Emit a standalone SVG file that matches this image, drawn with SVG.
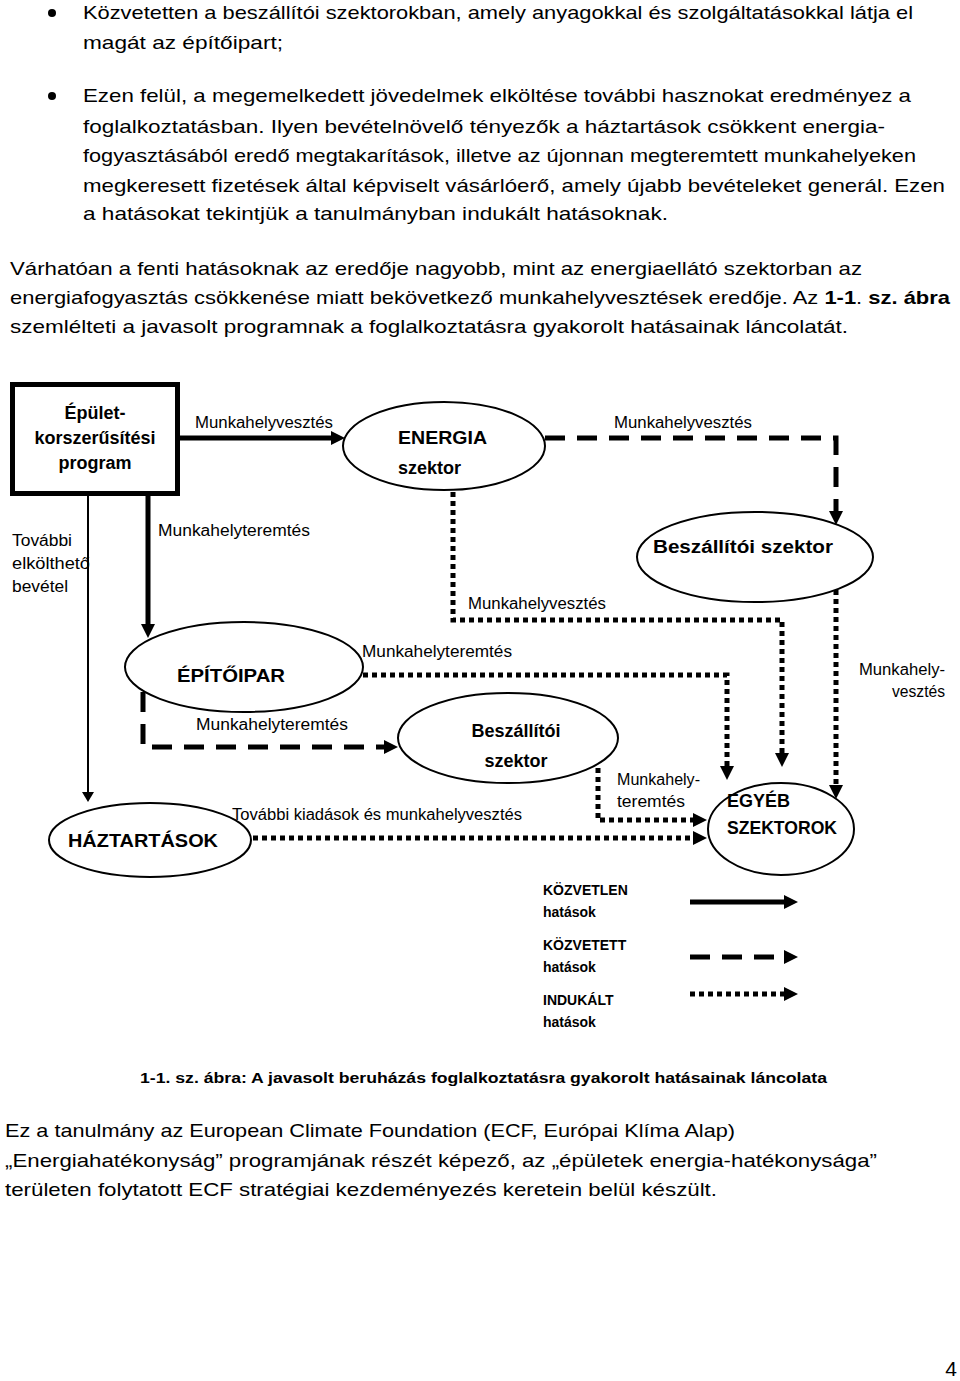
<svg xmlns="http://www.w3.org/2000/svg" width="960" height="1381" viewBox="0 0 960 1381">
<style>
text{font-family:"Liberation Sans",Arial,sans-serif;fill:#000}
.body{font-size:19px}
.lbl{font-size:16px}
.node{font-size:18px;font-weight:bold}
.leg{font-size:14px;font-weight:bold}
.ell{fill:#fff;stroke:#000;stroke-width:2}
.c{fill:none;stroke:#000}
.direct{stroke-width:5}
.thin{stroke-width:2}
.dash{stroke-width:5;stroke-dasharray:20 12}
.dot{stroke-width:5;stroke-dasharray:5 4}
</style>
<defs>
<marker id="arr" markerUnits="userSpaceOnUse" markerWidth="14" markerHeight="14" refX="2" refY="7" orient="auto" viewBox="0 0 14 14">
<path d="M0,0 L14,7 L0,14 z" fill="#000"/>
</marker>
<marker id="arrs" markerUnits="userSpaceOnUse" markerWidth="10" markerHeight="12" refX="0" refY="6" orient="auto" viewBox="0 0 10 12">
<path d="M0,0 L10,6 L0,12 z" fill="#000"/>
</marker>
</defs>
<rect width="960" height="1381" fill="#fff"/>

<g id="text-top">
<circle cx="52" cy="13" r="4"/>
<text class="body" x="83" y="19" textLength="830" lengthAdjust="spacingAndGlyphs">Közvetetten a beszállítói szektorokban, amely anyagokkal és szolgáltatásokkal látja el</text>
<text class="body" x="83" y="49" textLength="200" lengthAdjust="spacingAndGlyphs">magát az építőipart;</text>
<circle cx="52" cy="96" r="4"/>
<text class="body" x="83" y="102" textLength="828" lengthAdjust="spacingAndGlyphs">Ezen felül, a megemelkedett jövedelmek elköltése további hasznokat eredményez a</text>
<text class="body" x="83" y="133" textLength="802" lengthAdjust="spacingAndGlyphs">foglalkoztatásban. Ilyen bevételnövelő tényezők a háztartások csökkent energia-</text>
<text class="body" x="83" y="162" textLength="833" lengthAdjust="spacingAndGlyphs">fogyasztásából eredő megtakarítások, illetve az újonnan megteremtett munkahelyeken</text>
<text class="body" x="83" y="192" textLength="862" lengthAdjust="spacingAndGlyphs">megkeresett fizetések által képviselt vásárlóerő, amely újabb bevételeket generál. Ezen</text>
<text class="body" x="83" y="220" textLength="585" lengthAdjust="spacingAndGlyphs">a hatásokat tekintjük a tanulmányban indukált hatásoknak.</text>
<text class="body" x="10" y="275" textLength="852" lengthAdjust="spacingAndGlyphs">Várhatóan a fenti hatásoknak az eredője nagyobb, mint az energiaellátó szektorban az</text>
<text class="body" x="10" y="304" textLength="940" lengthAdjust="spacingAndGlyphs">energiafogyasztás csökkenése miatt bekövetkező munkahelyvesztések eredője. Az <tspan font-weight="bold">1-1</tspan>. <tspan font-weight="bold">sz. ábra</tspan></text>
<text class="body" x="10" y="333" textLength="838" lengthAdjust="spacingAndGlyphs">szemlélteti a javasolt programnak a foglalkoztatásra gyakorolt hatásainak láncolatát.</text>
</g>

<g id="connectors">
<path class="c direct" d="M180,438 H333" marker-end="url(#arr)"/>
<path class="c dash" d="M545,438 H836 V513" marker-end="url(#arr)"/>
<path class="c dot" d="M453,492 V620 H782 V755" marker-end="url(#arr)"/>
<path class="c dot" d="M836,590 V787" marker-end="url(#arr)"/>
<path class="c thin" d="M88,496 V792" marker-end="url(#arrs)"/>
<path class="c direct" d="M148,496 V626" marker-end="url(#arr)"/>
<path class="c dot" d="M363,675 H727 V768" marker-end="url(#arr)"/>
<path class="c dash" d="M143,692 V747 H386" marker-end="url(#arr)"/>
<path class="c dot" d="M598,768 V820 H695" marker-end="url(#arr)"/>
<path class="c dot" d="M235,838 H695" marker-end="url(#arr)"/>
</g>

<g id="labels">
<text class="lbl" x="195" y="428" textLength="138" lengthAdjust="spacingAndGlyphs">Munkahelyvesztés</text>
<text class="lbl" x="614" y="428" textLength="138" lengthAdjust="spacingAndGlyphs">Munkahelyvesztés</text>
<text class="lbl" x="158" y="536" textLength="152" lengthAdjust="spacingAndGlyphs">Munkahelyteremtés</text>
<text class="lbl" x="12" y="546" textLength="60" lengthAdjust="spacingAndGlyphs">További</text>
<text class="lbl" x="12" y="569" textLength="78" lengthAdjust="spacingAndGlyphs">elkölthető</text>
<text class="lbl" x="12" y="592" textLength="56" lengthAdjust="spacingAndGlyphs">bevétel</text>
<text class="lbl" x="468" y="609" textLength="138" lengthAdjust="spacingAndGlyphs">Munkahelyvesztés</text>
<text class="lbl" x="362" y="657" textLength="150" lengthAdjust="spacingAndGlyphs">Munkahelyteremtés</text>
<text class="lbl" x="859" y="675" textLength="86" lengthAdjust="spacingAndGlyphs">Munkahely-</text>
<text class="lbl" x="892" y="697" textLength="53" lengthAdjust="spacingAndGlyphs">vesztés</text>
<text class="lbl" x="196" y="730" textLength="152" lengthAdjust="spacingAndGlyphs">Munkahelyteremtés</text>
<text class="lbl" x="617" y="785" textLength="83" lengthAdjust="spacingAndGlyphs">Munkahely-</text>
<text class="lbl" x="617" y="807" textLength="68" lengthAdjust="spacingAndGlyphs">teremtés</text>
<text class="lbl" x="232" y="820" textLength="290" lengthAdjust="spacingAndGlyphs">További kiadások és munkahelyvesztés</text>
</g>

<g id="node-program">
<rect x="12.5" y="384.5" width="165" height="109" fill="#fff" stroke="#000" stroke-width="5"/>
<text class="node" x="95" y="419" text-anchor="middle">Épület-</text>
<text class="node" x="95" y="444" text-anchor="middle">korszerűsítési</text>
<text class="node" x="95" y="469" text-anchor="middle">program</text>
</g>

<g id="node-energia">
<ellipse class="ell" cx="444" cy="446" rx="101" ry="44"/>
<text class="node" x="398" y="444" textLength="89" lengthAdjust="spacingAndGlyphs">ENERGIA</text>
<text class="node" x="398" y="474">szektor</text>
</g>

<g id="node-beszallitoi1">
<ellipse class="ell" cx="755" cy="557" rx="118" ry="45"/>
<text class="node" x="653" y="553" textLength="180" lengthAdjust="spacingAndGlyphs">Beszállítói szektor</text>
</g>

<g id="node-epitoipar">
<ellipse class="ell" cx="244" cy="667" rx="119" ry="45"/>
<text class="node" x="177" y="682" textLength="108" lengthAdjust="spacingAndGlyphs">ÉPÍTŐIPAR</text>
</g>

<g id="node-beszallitoi2">
<ellipse class="ell" cx="508" cy="738" rx="110" ry="45"/>
<text class="node" x="516" y="737" text-anchor="middle">Beszállítói</text>
<text class="node" x="516" y="767" text-anchor="middle">szektor</text>
</g>

<g id="node-haztartasok">
<ellipse class="ell" cx="150" cy="840" rx="101" ry="37"/>
<text class="node" x="68" y="847" textLength="150" lengthAdjust="spacingAndGlyphs">HÁZTARTÁSOK</text>
</g>

<g id="node-egyeb">
<ellipse class="ell" cx="781" cy="829" rx="73" ry="46"/>
<text class="node" x="727" y="807" font-size="17">EGYÉB</text>
<text class="node" x="727" y="834" textLength="110" lengthAdjust="spacingAndGlyphs" font-size="17">SZEKTOROK</text>
</g>

<g id="legend">
<text class="leg" x="543" y="895">KÖZVETLEN</text>
<text class="leg" x="543" y="917">hatások</text>
<text class="leg" x="543" y="950">KÖZVETETT</text>
<text class="leg" x="543" y="972">hatások</text>
<text class="leg" x="543" y="1005">INDUKÁLT</text>
<text class="leg" x="543" y="1027">hatások</text>
<path class="c direct" d="M690,902 H786" marker-end="url(#arr)"/>
<path class="c dash" d="M690,957 H786" marker-end="url(#arr)"/>
<path class="c dot" d="M690,994 H786" marker-end="url(#arr)"/>
</g>

<g id="text-bottom">
<text class="leg" x="140" y="1083" textLength="687" lengthAdjust="spacingAndGlyphs">1-1. sz. ábra: A javasolt beruházás foglalkoztatásra gyakorolt hatásainak láncolata</text>
<text class="body" x="5" y="1137" textLength="730" lengthAdjust="spacingAndGlyphs">Ez a tanulmány az European Climate Foundation (ECF, Európai Klíma Alap)</text>
<text class="body" x="5" y="1167" textLength="872" lengthAdjust="spacingAndGlyphs">„Energiahatékonyság” programjának részét képező, az „épületek energia-hatékonysága”</text>
<text class="body" x="5" y="1196" textLength="712" lengthAdjust="spacingAndGlyphs">területen folytatott ECF stratégiai kezdeményezés keretein belül készült.</text>
<text x="957" y="1376" font-size="21" text-anchor="end">4</text>
</g>
</svg>
